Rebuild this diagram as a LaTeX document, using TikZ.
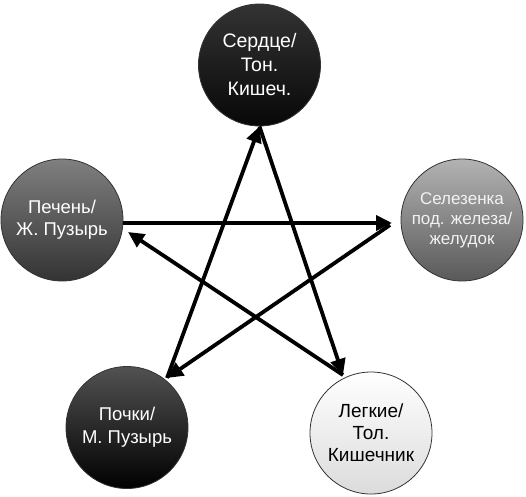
\documentclass[tikz,border=0pt]{standalone}
\usepackage{fontspec}
\setmainfont{Liberation Sans}
\usetikzlibrary{arrows.meta}
\begin{document}
\begin{tikzpicture}[x=1pt,y=-1pt,
  organ/.style={circle, minimum size=122pt, inner sep=0pt, draw=black!80, line width=0.8pt, align=center, text=white},
  arr/.style={line width=3.8pt, -{Triangle[length=16pt,width=15pt]}}]
\useasboundingbox (0,0) rectangle (526,496);
\node[organ, top color=black!80, bottom color=black!97, font=\fontsize{19.5}{24}\selectfont] (heart) at (259.5,65) {Сердце/\\Тон.\\Кишеч.};
\node[organ, top color=black!50, bottom color=black!80, font=\fontsize{18.5}{22}\selectfont] (liver) at (62,220) {Печень/\\Ж. Пузырь};
\node[organ, top color=black!30, bottom color=black!65, text=white!95!black, font=\fontsize{17}{20}\selectfont] (spleen) at (462,220) {Селезенка\\под. железа/\\желудок};
\node[organ, top color=black!68, bottom color=black, font=\fontsize{18.5}{23}\selectfont] (kidney) at (127,427.5) {Почки/\\М. Пузырь};
\node[organ, top color=white, bottom color=black!14, text=black, font=\fontsize{19}{22}\selectfont] (lung) at (371,433) {Легкие/\\Тол.\\Кишечник};
\coordinate (vL) at (123,223);
\coordinate (vR) at (392,223);
\coordinate (vLt) at (128,232);
\coordinate (vRs) at (390,225);
\coordinate (vBL) at (167,378);
\coordinate (vBR) at (343,375);
\draw[arr] (vL) -- (vR);
\draw[arr] (vRs) -- (vBL);
\draw[arr] (vBL) -- (heart.south);
\draw[arr] (heart.south) -- (vBR);
\draw[arr] (vBR) -- (vLt);
\end{tikzpicture}
\end{document}
